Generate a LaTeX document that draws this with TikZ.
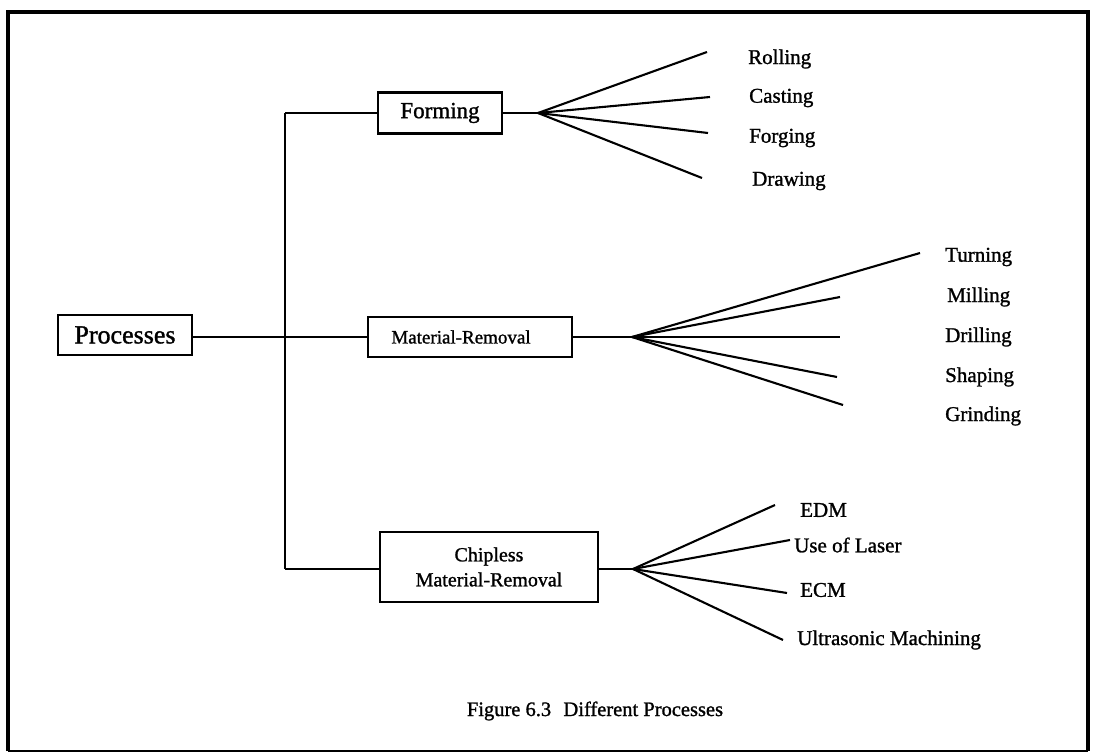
\documentclass[tikz,border=0pt]{standalone}
\usepackage{fontspec}
\setmainfont{Liberation Serif}[FakeBold=1.2]
\begin{document}
\begin{tikzpicture}[x=1pt,y=-1pt,
  box/.style={draw, line width=2.4pt, inner sep=0pt},
  wire/.style={line width=1.6pt},
  fan/.style={line width=2.1pt},
  leaf/.style={anchor=west, inner sep=0pt, font=\fontsize{21}{23}\selectfont}]
\useasboundingbox (0,0) rectangle (1093,754);
% outer frame: heavy top, left and right rules, lighter bottom rule
\draw[line width=3.2pt] (8,751) -- (8,12) -- (1088,12) -- (1088,751);
\draw[line width=1.6pt] (8,751) -- (1088,751);

% root and the three process families
\node[box, minimum width=134pt, minimum height=40pt, font=\fontsize{26}{28}\selectfont] (proc) at (125,335) {Processes};
\node[box, minimum width=124pt, minimum height=41pt, font=\fontsize{23}{25}\selectfont] (form) at (440,113) {Forming};
\node[box, minimum width=204pt, minimum height=40pt, font=\fontsize{19}{21}\selectfont] (mat) at (470,337) {Material-Removal\hspace*{18pt}};
\node[box, minimum width=218pt, minimum height=70pt, align=center, font=\fontsize{20}{25}\selectfont] (chip) at (489,567) {Chipless\\Material-Removal};

% trunk
\coordinate (tTop) at (285,113);
\coordinate (tBot) at (285,569);
\draw[wire] (proc.east |- 0,337) -- (mat.west |- 0,337);
\draw[wire] (tTop) -- (tBot);
\draw[wire] (tTop) -- (form.west);
\draw[wire] (tBot) -- (chip.west |- tBot);

% fan points
\coordinate (fF) at (538,113);
\coordinate (fM) at (632,337);
\coordinate (fC) at (633,569);
\draw[wire] (form.east) -- (fF);
\draw[wire] (mat.east) -- (fM);
\draw[wire] (chip.east |- fC) -- (fC);

% forming branches
\coordinate (eRoll) at (707,52);
\coordinate (eCast) at (710,97);
\coordinate (eForg) at (708,133);
\coordinate (eDraw) at (702,178);
\foreach \e in {eRoll,eCast,eForg,eDraw} \draw[fan] (fF) -- (\e);
\node[leaf] (lRoll) at (748,59) {Rolling};
\node[leaf] (lCast) at (749,98) {Casting};
\node[leaf] (lForg) at (749,138) {Forging};
\node[leaf] (lDraw) at (752,181) {Drawing};

% material-removal branches
\coordinate (eTurn) at (920,253);
\coordinate (eMill) at (840,297);
\coordinate (eDrill) at (840,337);
\coordinate (eShap) at (837,377);
\coordinate (eGrin) at (843,405);
\foreach \e in {eTurn,eMill,eDrill,eShap,eGrin} \draw[fan] (fM) -- (\e);
\node[leaf] (lTurn) at (945,257) {Turning};
\node[leaf] (lMill) at (947,297) {Milling};
\node[leaf] (lDrill) at (945,337) {Drilling};
\node[leaf] (lShap) at (945,377) {Shaping};
\node[leaf] (lGrin) at (945,416) {Grinding};

% chipless branches
\coordinate (eEDM) at (775,505);
\coordinate (eLas) at (790,540);
\coordinate (eECM) at (787,593);
\coordinate (eUlt) at (783,640);
\foreach \e in {eEDM,eLas,eECM,eUlt} \draw[fan] (fC) -- (\e);
\node[leaf] (lEDM) at (800,510) {EDM};
\node[leaf] (lLas) at (794,545) {Use of Laser};
\node[leaf] (lECM) at (800,590) {ECM};
\node[leaf] (lUlt) at (797,640) {Ultrasonic Machining};

% caption
\node[font=\fontsize{20.5}{23}\selectfont] (cap) at (595,711) {Figure 6.3\hspace{0.6em}Different Processes};
\end{tikzpicture}
\end{document}
